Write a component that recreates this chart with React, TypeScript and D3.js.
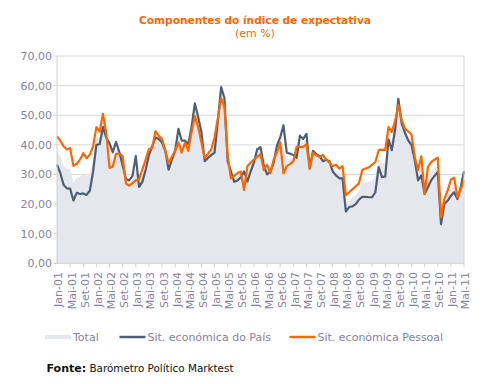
import React, { useRef, useEffect } from "react";
import * as d3 from "d3";

// labels shown on the x axis (one every 4 months)
const tickLabels = [
  "Jan-01", "Mai-01", "Set-01", "Jan-02", "Mai-02", "Set-02", "Jan-03", "Mai-03",
  "Set-03", "Jan-04", "Mai-04", "Set-04", "Jan-05", "Mai-05", "Set-05", "Jan-06",
  "Mai-06", "Set-06", "Jan-07", "Mai-07", "Set-07", "Jan-08", "Mai-08", "Set-08",
  "Jan-09", "Mai-09", "Set-09", "Jan-10", "Mai-10", "Set-10", "Jan-11", "Mai-11",
];

const yTicks = [0, 10, 20, 30, 40, 50, 60, 70];

// monthly values, Jan-01 .. Mai-11
const pais = [
  33.3, 30.5, 26.5, 25.3, 25.2, 21.2, 23.8, 23.4, 23.6, 23.1,
  24.5, 31, 40, 40.2, 46, 42.5, 40.5, 37.5, 41, 37.5,
  33, 28.5, 28, 29.5, 36.2, 25.8, 27.5, 31.5, 36.5, 39.5,
  42.5, 42, 40.8, 38, 31.6, 35, 38, 45.4, 41.4, 41.4,
  40.2, 46, 54, 49.4, 44.3, 34.5, 35.6, 36.5, 37.4, 48,
  59.5, 55.8, 34.5, 31, 27.5, 28, 29, 31, 27.6, 31,
  34, 38.5, 39.2, 33, 30, 31, 33.9, 39.7, 42.5, 46.6,
  37.4, 37, 36.6, 35.6, 43.1, 42, 43.7, 32, 38, 36.8,
  36.2, 34.5, 35, 34.5, 31, 29.7, 28.7, 28.7, 17.5, 19,
  19.2, 20, 21.5, 22.4, 22.4, 22.3, 22.3, 24, 32.5, 29.1,
  29.3, 41.8, 38.2, 45, 55.5, 47.3, 44.1, 41.5, 39.9, 34.8,
  28, 29.7, 23.4, 25.7, 28, 29.5, 30.8, 13.2, 20, 21.1,
  22.8, 24, 21.7, 25.7, 31.1,
];

const pessoal = [
  42.9, 41.4, 39.5, 38.4, 38.9, 32.9, 33.6, 35, 37.2, 35.5,
  36.7, 39.5, 46, 44.5, 50.5, 44, 32.2, 32.7, 37, 37,
  36.1, 26.9, 26.2, 27.1, 28, 28.4, 31.6, 35, 38.6, 38.9,
  44.6, 43, 42, 38, 33.9, 36, 38, 40.8, 37.4, 40.8,
  38, 44.3, 49.7, 46, 40.8, 35.6, 37, 38.5, 42.5, 49,
  55.7, 52.9, 36.2, 28.7, 29.5, 30.5, 31, 24.7, 32.8, 34,
  35, 36, 36.8, 31.5, 33.3, 30.4, 35, 37.4, 40.8, 30.4,
  32.8, 33.5, 34.5, 39.3, 39.3, 39.3, 40.2, 32, 37.4, 36.5,
  35.9, 36.6, 35, 34, 32.8, 33.3, 32, 32.8, 23, 24,
  25, 26, 27, 31.5, 32, 32.4, 33.3, 34.2, 38.2, 38.4,
  38.2, 46.1, 44.4, 48, 53.5, 48.4, 45.5, 44.5, 43.5, 36,
  31.4, 36.1, 23.4, 32.5, 34.2, 35, 35.7, 15.5, 21.7, 24.5,
  28.2, 28.9, 22.3, 25, 28,
];

const total = [
  38.1, 36, 33, 31.9, 32.1, 27.1, 28.7, 29.2, 30.4, 29.3,
  30.6, 35.3, 43, 42.4, 48.3, 43.3, 36.4, 35.1, 39, 37.3,
  34.6, 27.7, 27.1, 28.3, 32.1, 27.1, 29.6, 33.3, 37.6, 39.2,
  43.6, 42.5, 41.4, 38, 32.8, 35.5, 38, 43.1, 39.4, 41.1,
  39.1, 45.2, 51.9, 47.7, 42.6, 35.1, 36.3, 37.5, 40, 48.5,
  57.6, 54.4, 35.4, 29.9, 28.5, 29.3, 30, 27.9, 30.2, 32.5,
  34.5, 37.3, 38, 32.3, 31.7, 30.7, 34.5, 38.6, 41.7, 38.5,
  35.1, 35.3, 35.6, 37.5, 41.2, 40.7, 42, 32, 37.7, 36.7,
  36.1, 35.6, 35, 34.3, 31.9, 31.5, 30.4, 30.8, 20.3, 21.5,
  22.1, 23, 24.3, 27, 27.2, 27.5, 27.8, 29.1, 35.4, 33.8,
  33.8, 44, 41.3, 46.5, 54.5, 47.9, 44.8, 43, 41.7, 35.4,
  29.7, 32.9, 23.4, 29.1, 31.1, 32.3, 33.3, 14.4, 20.9, 22.8,
  25.5, 26.5, 22, 25.4, 29.6,
];

const FONT = "'DejaVu Sans', Verdana, sans-serif";
const LABEL = "#85849c";
const GRID = "#d9d9d9";
const BLUE = "#4d5e74";
const ORANGE = "#ff6600";
const AREA = "#e4e7ec";

export default function App() {
  const svgRef = useRef<SVGSVGElement>(null);

  useEffect(() => {
    const svg = d3.select(svgRef.current);
    svg.selectAll("*").remove();

    const left = 57, right = 464, top = 56, bottom = 263.3;
    const idx = d3.range(pais.length);

    const x = d3.scalePoint<number>().domain(idx).range([left, right]);
    const y = d3.scaleLinear().domain([0, 70]).range([bottom, top]);

    // gridlines
    svg.append("g")
      .selectAll("line")
      .data(yTicks.filter((d) => d > 0))
      .join("line")
      .attr("x1", left - 4)
      .attr("x2", right)
      .attr("y1", (d) => y(d))
      .attr("y2", (d) => y(d))
      .attr("stroke", GRID)
      .attr("stroke-width", 1);

    // total area
    const area = d3.area<number>()
      .x((d, i) => x(i)!)
      .y0(bottom)
      .y1((d) => y(d));
    svg.append("path").datum(total).attr("d", area).attr("fill", AREA);

    // lines
    const line = d3.line<number>()
      .x((d, i) => x(i)!)
      .y((d) => y(d));
    svg.append("path").datum(pais).attr("d", line)
      .attr("fill", "none").attr("stroke", BLUE).attr("stroke-width", 2.2)
      .attr("stroke-linejoin", "round");
    svg.append("path").datum(pessoal).attr("d", line)
      .attr("fill", "none").attr("stroke", ORANGE).attr("stroke-width", 2.2)
      .attr("stroke-linejoin", "round");

    // frame: left axis, bottom axis, right border
    svg.append("line").attr("x1", left).attr("x2", left).attr("y1", top).attr("y2", bottom)
      .attr("stroke", "#d0d0d0");
    svg.append("line").attr("x1", right).attr("x2", right).attr("y1", top).attr("y2", bottom)
      .attr("stroke", GRID);
    svg.append("line").attr("x1", left - 4).attr("x2", right).attr("y1", bottom).attr("y2", bottom)
      .attr("stroke", "#d0d0d0");

    // y labels
    svg.append("g")
      .selectAll("text")
      .data(yTicks)
      .join("text")
      .attr("x", 52)
      .attr("y", (d) => y(d))
      .attr("dy", "0.36em")
      .attr("text-anchor", "end")
      .style("font", `11px ${FONT}`)
      .attr("fill", LABEL)
      .text((d) => d3.format(".2f")(d).replace(".", ","));

    // x ticks + labels every 4 months
    const tickIdx = idx.filter((i) => i % 4 === 0);
    svg.append("g")
      .selectAll("line")
      .data(tickIdx.filter((i) => i > 0))
      .join("line")
      .attr("x1", (i) => x(i)!)
      .attr("x2", (i) => x(i)!)
      .attr("y1", bottom)
      .attr("y2", bottom + 4)
      .attr("stroke", "#d0d0d0");

    svg.append("g")
      .selectAll("text")
      .data(tickIdx)
      .join("text")
      .attr("transform", (i) => `translate(${x(i)! + 1.5},272) rotate(-90)`)
      .attr("text-anchor", "end")
      .attr("dy", "0.36em")
      .style("font", `11px ${FONT}`)
      .attr("fill", LABEL)
      .text((i, k) => tickLabels[k]);

    // title
    svg.append("text")
      .attr("x", 255).attr("y", 24)
      .attr("text-anchor", "middle")
      .style("font", `bold 10.6px ${FONT}`)
      .attr("fill", ORANGE)
      .text("Componentes do índice de expectativa");
    svg.append("text")
      .attr("x", 255).attr("y", 36.5)
      .attr("text-anchor", "middle")
      .style("font", `11px ${FONT}`)
      .attr("fill", ORANGE)
      .text("(em %)");

    // legend
    const legend = [
      { name: "Total", color: AREA, w: 4, x0: 45 },
      { name: "Sit. económica do País", color: BLUE, w: 2.5, x0: 119.5 },
      { name: "Sit. económica Pessoal", color: ORANGE, w: 2.5, x0: 289.5 },
    ];
    const lg = svg.append("g");
    legend.forEach((d) => {
      lg.append("line")
        .attr("x1", d.x0).attr("x2", d.x0 + 26)
        .attr("y1", 337).attr("y2", 337)
        .attr("stroke", d.color).attr("stroke-width", d.w);
      lg.append("text")
        .attr("x", d.x0 + 28).attr("y", 340.7)
        .style("font", `11px ${FONT}`)
        .attr("fill", LABEL)
        .text(d.name);
    });

    // source
    const src = svg.append("text").attr("x", 46.5).attr("y", 371.5).attr("fill", "#111");
    src.append("tspan").style("font", `bold 11px ${FONT}`).text("Fonte:");
    src.append("tspan").style("font", `10.4px ${FONT}`).text(" Barómetro Político Marktest");
  }, []);

  return (
    <svg
      ref={svgRef}
      width={483}
      height={384}
      style={{ position: "absolute", left: 0, top: 0, background: "#fff" }}
    ></svg>
  );
}
